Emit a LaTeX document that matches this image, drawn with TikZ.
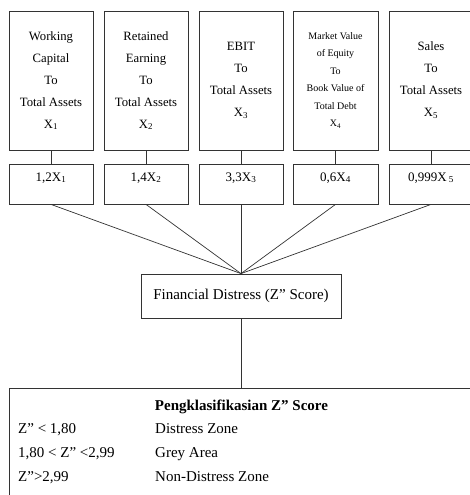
\documentclass[tikz,border=0pt]{standalone}
\usepackage{fontspec}
\setmainfont{Liberation Serif}
\begin{document}
\begin{tikzpicture}[x=1pt,y=-1pt]
\tikzset{
  lin/.style={draw=black!80, line width=0.8pt},
  varbox/.style={lin, minimum width=84pt, minimum height=139pt, inner sep=0pt, align=center,
    font=\fontsize{12.7}{22}\selectfont},
  smallvar/.style={font=\fontsize{10}{17.5}\selectfont},
  coefbox/.style={lin, minimum width=84pt, inner xsep=0pt, inner ysep=4pt,
    text height=13pt, text depth=19pt, font=\fontsize{13}{15}\selectfont},
  finbox/.style={lin, minimum width=200pt, minimum height=44pt, inner sep=0pt,
    font=\fontsize{15}{18}\selectfont},
  clsbox/.style={lin, minimum width=464pt, minimum height=115pt, inner sep=0pt, anchor=north},
  clstext/.style={inner sep=0pt, font=\fontsize{15}{18}\selectfont},
  conn/.style={draw=black!80, line width=0.7pt}
}
\useasboundingbox (0,0) rectangle (469,495);

% top variable boxes
\node[varbox] (v1) at (51,80.5) {Working\\Capital\\To\\Total Assets\\X\textsubscript{1}};
\node[varbox] (v2) at (146,80.5) {Retained\\Earning\\To\\Total Assets\\X\textsubscript{2}};
\node[varbox] (v3) at (241,80.5) {EBIT\\To\\Total Assets\\X\textsubscript{3}};
\node[varbox, smallvar, minimum width=85pt] (v4) at (335.5,80.5) {Market Value\\of Equity\\To\\Book Value of\\Total Debt\\X\textsubscript{4}};
\node[varbox] (v5) at (431,80.5) {Sales\\To\\Total Assets\\X\textsubscript{5}};

% coefficient boxes
\node[coefbox] (c1) at (51,184) {1,2X\textsubscript{1}};
\node[coefbox] (c2) at (146,184) {1,4X\textsubscript{2}};
\node[coefbox] (c3) at (241,184) {3,3X\textsubscript{3}};
\node[coefbox, minimum width=85pt] (c4) at (335.5,184) {0,6X\textsubscript{4}};
\node[coefbox] (c5) at (431,184) {0,999X\,\textsubscript{5}};

% financial distress box
\node[finbox] (fin) at (241,296) {Financial Distress (Z” Score)};

% classification box
\node[clsbox] (cls) at (241,388) {};
\node[clstext, font=\bfseries\fontsize{15}{18}\selectfont, anchor=base] (title) at (241.5,410) {Pengklasifikasian Z” Score};
\node[clstext, anchor=base west] (r1a) at (18,433) {Z” < 1,80};
\node[clstext, anchor=base west] (r1b) at (155,433) {Distress Zone};
\node[clstext, anchor=base west] (r2a) at (18,457) {1,80 < Z” <2,99};
\node[clstext, anchor=base west] (r2b) at (155,457) {Grey Area};
\node[clstext, anchor=base west] (r3a) at (18,481) {Z”>2,99};
\node[clstext, anchor=base west] (r3b) at (155,481) {Non-Distress Zone};

% connectors
\foreach \i in {1,...,5} {
  \draw[conn] (v\i.south) -- (c\i.north);
  \draw[conn] (c\i.south) -- (fin.north);
}
\draw[conn] (fin.south) -- (cls.north);
\end{tikzpicture}
\end{document}
